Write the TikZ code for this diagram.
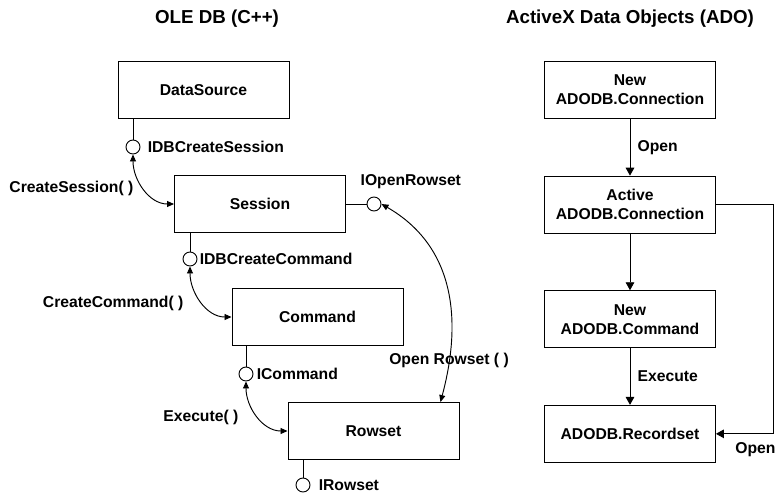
\documentclass[tikz,border=0pt]{standalone}
\usepackage{fontspec}
\setmainfont{Liberation Sans}
\usetikzlibrary{arrows.meta,positioning}
\tikzset{
  caixa/.style={rectangle, draw, line width=0.8pt, minimum width=5.13cm, minimum height=1.71cm,
                inner sep=0pt, align=center, font=\fontsize{13.4}{16.2}\selectfont\bfseries},
  soquete/.style={circle, draw, line width=0.8pt, fill=white, minimum size=0.42cm, inner sep=0pt},
  rotulo/.style={inner sep=1pt, font=\fontsize{13.4}{16}\selectfont\bfseries},
  titulo/.style={font=\fontsize{16}{19}\selectfont\bfseries},
  seta/.style={-{Triangle[length=2.4mm,width=2.6mm]}, line width=0.8pt},
  setadupla/.style={{Triangle[length=2.1mm,width=1.8mm]}-{Triangle[length=2.1mm,width=1.8mm]}, line width=0.8pt},
}

\begin{document}
\begin{tikzpicture}[x=0.03cm, y=0.03cm, line width=0.8pt]
  \useasboundingbox (0,0) rectangle (777,-494);
  \node[titulo] (tole) at (217,-19) {OLE DB (C++)};
  \node[titulo] (tado) at (630,-19) {ActiveX Data Objects (ADO)};

  \node[caixa] (ds) at (203.5,-90) {DataSource};
  \node[caixa] (sess) at (260,-204) {Session};
  \node[caixa] (cmd) at (317.5,-317) {Command};
  \node[caixa] (rows) at (373.5,-431) {Rowset};

  \node[soquete] (idbcs) at (133,-147) {};
  \node[soquete] (idbcc) at (190,-259) {};
  \node[soquete] (icmd) at (246,-374) {};
  \node[soquete] (irows) at (303,-485) {};
  \node[soquete] (iopen) at (374,-204) {};

  \draw (idbcs |- ds.south) -- (idbcs);
  \draw (idbcc |- sess.south) -- (idbcc);
  \draw (icmd |- cmd.south) -- (icmd);
  \draw (irows |- rows.south) -- (irows);
  \draw (sess.east) -- (iopen);

  \node[rotulo, right=0.17cm of idbcs] (lidbcs) {IDBCreateSession};
  \node[rotulo, right=0.02cm of idbcc] (lidbcc) {IDBCreateCommand};
  \node[rotulo, right=0.05cm of icmd] (licmd) {ICommand};
  \node[rotulo, right=0.2cm of irows] (lirows) {IRowset};
  \node[rotulo, anchor=west] (liopen) at (359,-182) {IOpenRowset};
  \node[rotulo, anchor=east] (lcs) at (135,-188) {CreateSession( )};
  \node[rotulo, anchor=east] (lcc) at (185,-303) {CreateCommand( )};
  \node[rotulo, anchor=east] (lexe) at (240,-417) {Execute( )};
  \node[rotulo] (lopen) at (449,-360) {Open Rowset ( )};

  \draw[setadupla] (idbcs.south) to[out=-90,in=180] (sess.west);
  \draw[setadupla] (idbcc.south) to[out=-90,in=180] (cmd.west);
  \draw[setadupla] (icmd.south) to[out=-90,in=180] (rows.west);
  \draw[setadupla] (iopen.east) to[out=-30,in=75,looseness=1.05] ([xshift=-0.57cm]rows.north east);

  \node[caixa] (novacon) at (630,-90) {New\\ADODB.Connection};
  \node[caixa, below=1.7cm of novacon] (ativacon) {Active\\ADODB.Connection};
  \node[caixa, below=1.7cm of ativacon] (novocmd) {New\\ADODB.Command};
  \node[caixa, below=1.7cm of novocmd] (recset) {ADODB.Recordset};
  \coordinate[right=1.71cm of recset.east] (canto);

  \draw[seta] (novacon) -- node[rotulo, right=0.18cm] {Open} (ativacon);
  \draw[seta] (ativacon) -- (novocmd);
  \draw[seta] (novocmd) -- node[rotulo, right=0.18cm] {Execute} (recset);
  \draw[seta] (ativacon.east) -| (canto) -- node[rotulo, below=0.2cm, xshift=0.33cm] {Open} (recset.east);
\end{tikzpicture}
\end{document}
